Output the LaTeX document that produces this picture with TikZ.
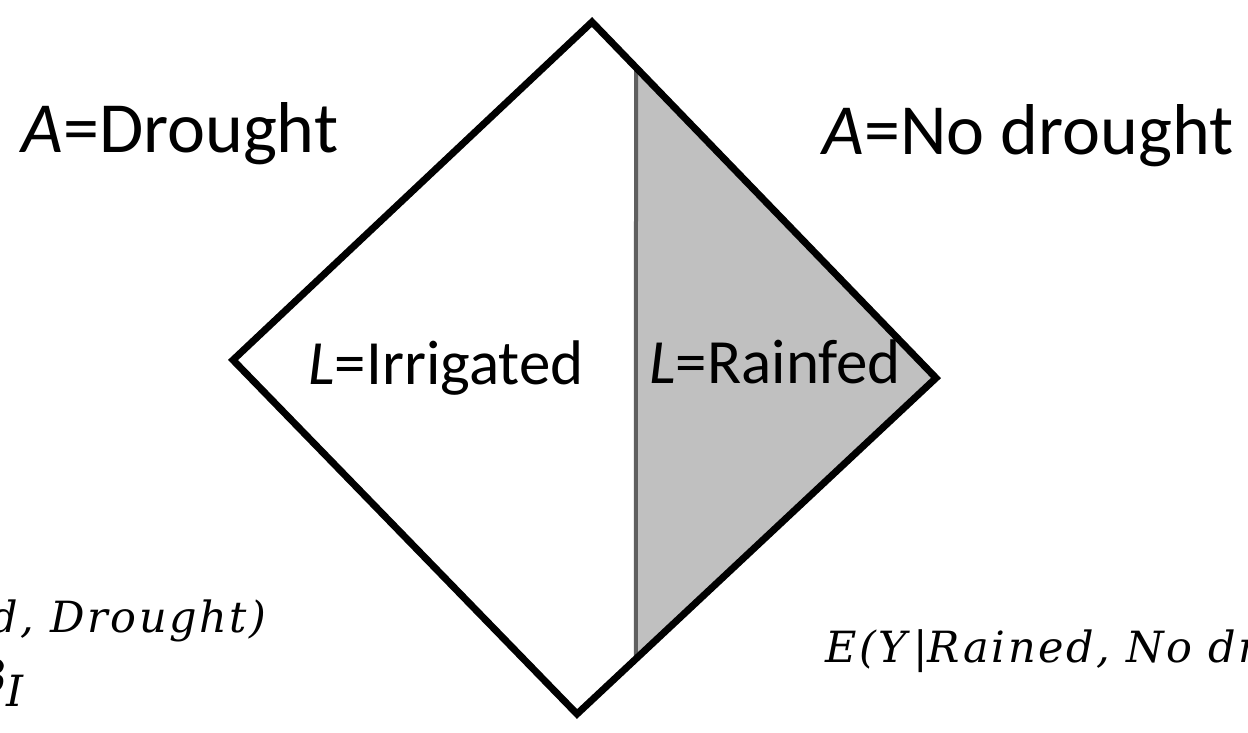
\documentclass[tikz,border=0pt]{standalone}
\usepackage{fontspec}
\setmainfont{Carlito}
\newfontfamily\formfont{DejaVu Serif}[LetterSpace=6]
\usepackage{tikz}
\usetikzlibrary{calc}
\definecolor{rainfedgris}{RGB}{192,192,192}
\definecolor{divisor}{RGB}{95,95,95}

\begin{document}
\begin{tikzpicture}[x=1pt, y=-1pt, line width=7pt,
    etiqueta/.style={inner sep=0pt, anchor=base west, font=\fontsize{63}{70}\selectfont},
    titulo/.style={etiqueta, font=\fontsize{72}{80}\selectfont},
    formula/.style={inner sep=0pt, font=\formfont\itshape\fontsize{43}{50}\selectfont}]
    \useasboundingbox (0,0) rectangle (1248,733);
    \clip (0,0) rectangle (1248,733);
    % vertices del rombo
    \coordinate (arriba) at (592,22);
    \coordinate (izq) at (233,360);
    \coordinate (der) at (936,378);
    \coordinate (abajo) at (577,714);
    \coordinate (corteA) at ($(arriba)!0.128!(der)$);
    \coordinate (corteB) at ($(abajo)!0.164!(der)$);
    % zona de secano -> gris
    \fill[rainfedgris] (corteA)--(der)--(corteB)--cycle;
    \draw[divisor,line width=4pt] (corteA)--(corteB);
    \draw[line join=miter] (arriba)--(der)--(abajo)--(izq)--cycle;
    % etiquetas
    \node[titulo] (sequia) at (18,153){\textit{A}=Drought};
    \node[titulo] (nosequia) at (819,155){\textit{A}=No drought};
    \node[etiqueta] (riego) at (305,384){\textit{L}=Irrigated};
    \node[etiqueta] (secano) at (646,383){\textit{L}=Rainfed};
    % esperanzas condicionadas (cortadas por el borde)
    \node[formula,anchor=base east] (eriego) at (270,632){d, Drought)};
    \node[formula,anchor=base east] (beta) at (27,692){β\raisebox{-14pt}{I}};
    \node[formula,anchor=base west] (esecano) at (822,662){E(Y\textup{|}Rained, No dr};
\end{tikzpicture}
\end{document}
